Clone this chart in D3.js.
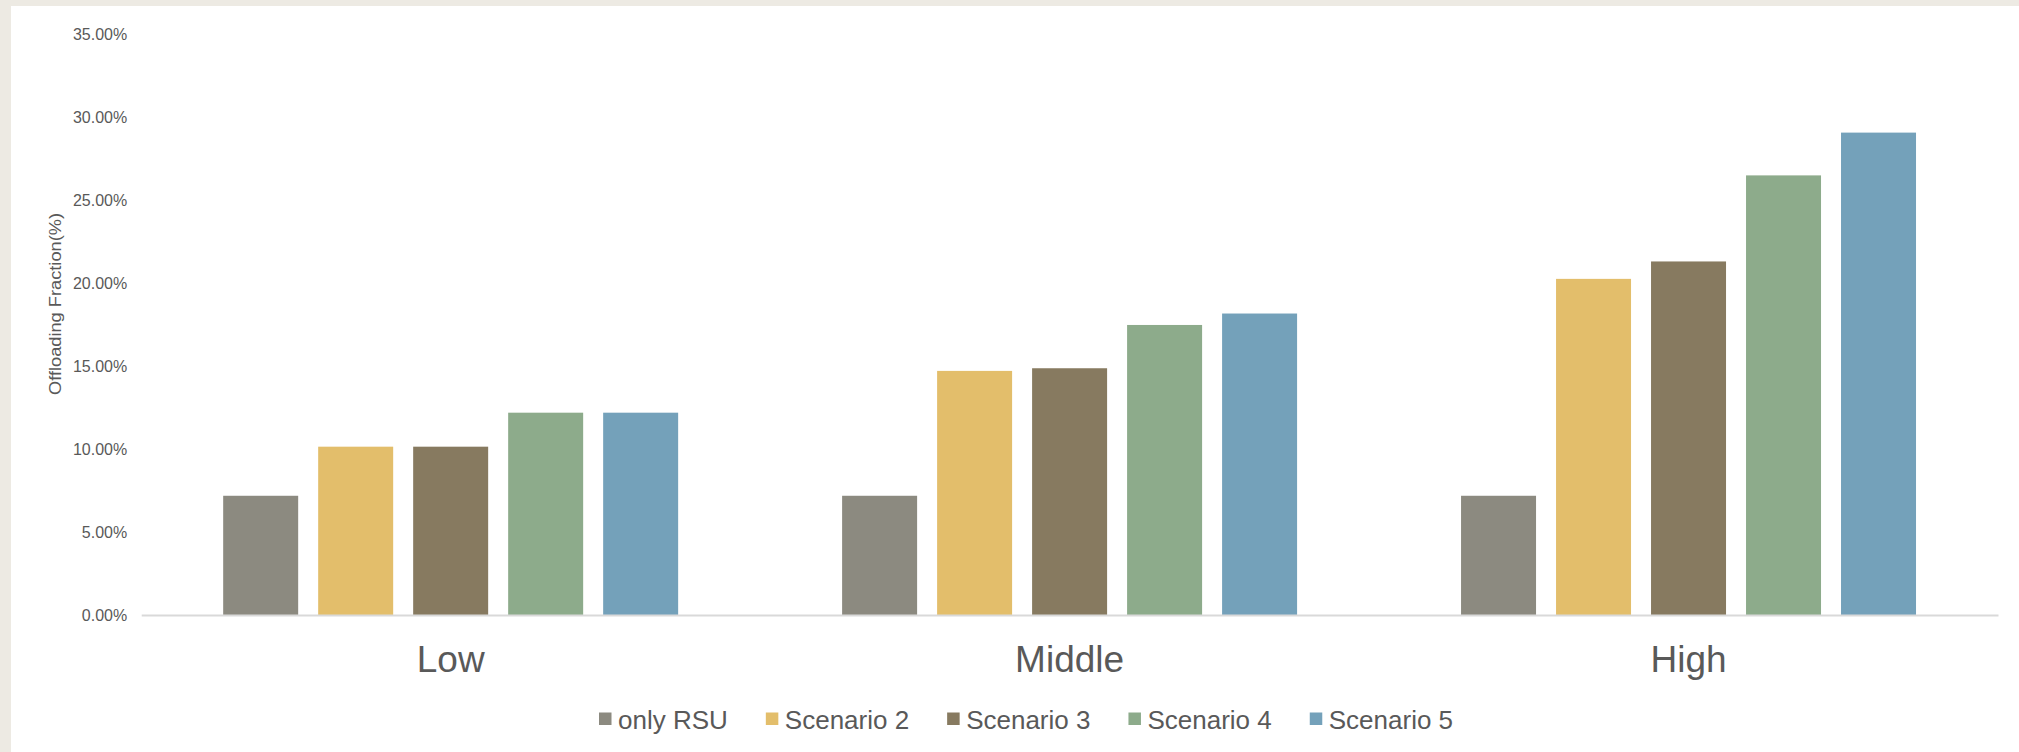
<!DOCTYPE html>
<html>
<head>
<meta charset="utf-8">
<script src="https://cdn.jsdelivr.net/npm/d3@7"></script>
<style>
  html, body { margin: 0; padding: 0; background: #EDEAE3; }
  svg { display: block; font-family: "Liberation Sans", Arial, sans-serif; }
</style>
</head>
<body>
<svg id="chart" width="2019" height="752"></svg>
<script>
// Offloading fraction per load level and scenario
const categories = ["Low", "Middle", "High"];
const seriesNames = ["only RSU", "Scenario 2", "Scenario 3", "Scenario 4", "Scenario 5"];
const onlyRSU   = [7.19, 7.19, 7.19];
const scenario2 = [10.15, 14.72, 20.27];
const scenario3 = [10.15, 14.88, 21.32];
const scenario4 = [12.20, 17.49, 26.51];
const scenario5 = [12.20, 18.18, 29.09];
const yTicks = [0, 5, 10, 15, 20, 25, 30, 35];
const colors = ["#8C8A80", "#E3BE6B", "#877A60", "#8DAB8B", "#74A1BA"];

const seriesValues = [onlyRSU, scenario2, scenario3, scenario4, scenario5];

const svg = d3.select("#chart");

// white chart panel on the beige page
svg.append("rect")
  .attr("x", 11).attr("y", 6)
  .attr("width", 2019 - 11).attr("height", 752 - 6)
  .attr("fill", "#FFFFFF");

const plot = { left: 141.2, right: 1998, top: 34.6, bottom: 615 };

const y = d3.scaleLinear().domain([0, 35]).range([plot.bottom, plot.top]);
const x0 = d3.scaleBand().domain(categories).range([plot.left, plot.right])
  .paddingInner(0).paddingOuter(0);
const x1 = d3.scaleBand().domain(seriesNames).range([0, x0.bandwidth()])
  .paddingInner(20 / 95).paddingOuter(0.863);

// y axis labels
const yAxis = d3.axisLeft(y)
  .tickValues(yTicks)
  .tickSize(0)
  .tickPadding(14)
  .tickFormat(d => d3.format(".2f")(d) + "%");

const gy = svg.append("g")
  .attr("transform", `translate(${plot.left},0)`)
  .call(yAxis);
gy.select(".domain").remove();
gy.selectAll("text")
  .attr("fill", "#595959")
  .style("font-size", "16px")
  .style("font-family", "'Liberation Sans', Arial, sans-serif");

// bars
const groups = svg.append("g").selectAll("g")
  .data(categories)
  .join("g")
  .attr("transform", d => `translate(${x0(d)},0)`);

groups.selectAll("rect")
  .data((c, ci) => seriesNames.map((s, si) => ({ s, si, v: seriesValues[si][ci] })))
  .join("rect")
  .attr("x", d => x1(d.s))
  .attr("width", x1.bandwidth())
  .attr("y", d => y(d.v))
  .attr("height", d => y(0) - y(d.v))
  .attr("fill", d => colors[d.si]);

// category axis
const xAxis = d3.axisBottom(x0).tickSize(0).tickPadding(0);
const gx = svg.append("g")
  .attr("transform", `translate(0,${plot.bottom})`)
  .call(xAxis);
gx.select(".domain").attr("stroke", "#D9D9D9").attr("stroke-width", 2);
gx.selectAll("text")
  .attr("fill", "#595959")
  .attr("dy", null)
  .attr("y", 57)
  .style("font-size", "37px")
  .style("font-family", "'Liberation Sans', Arial, sans-serif");

// y axis title
svg.append("text")
  .attr("transform", `translate(61,304) rotate(-90)`)
  .attr("text-anchor", "middle")
  .attr("fill", "#595959")
  .style("font-size", "16px")
  .attr("textLength", 182)
  .attr("lengthAdjust", "spacingAndGlyphs")
  .text("Offloading Fraction(%)");

// legend
const legend = svg.append("g");
let lx = 599;
seriesNames.forEach((name, i) => {
  const item = legend.append("g").attr("transform", `translate(${lx},0)`);
  item.append("rect")
    .attr("x", 0).attr("y", 712.5)
    .attr("width", 12.5).attr("height", 12.5)
    .attr("fill", colors[i]);
  const t = item.append("text")
    .attr("x", 19).attr("y", 729)
    .attr("fill", "#595959")
    .style("font-size", "26px")
    .text(name);
  lx += 19 + t.node().getComputedTextLength() + 38;
});
</script>
</body>
</html>
